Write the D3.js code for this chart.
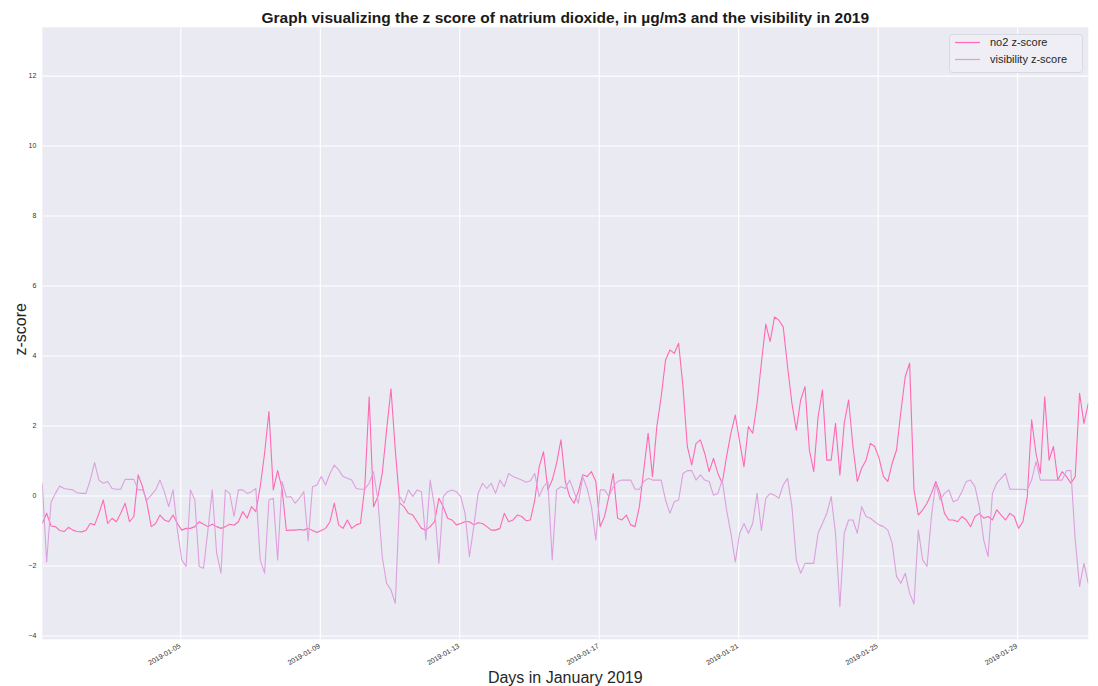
<!DOCTYPE html>
<html><head><meta charset="utf-8">
<script src="https://cdn.jsdelivr.net/npm/d3@7"></script>
<style>body{margin:0;background:#fff}svg{display:block}</style>
</head><body><svg id="chart" width="1098" height="686"></svg>
<script>
const seriesNames = ["no2 z-score", "visibility z-score"];
const seriesColors = ["#ff69b4", "#dda0dd"];
const startISO = "2019-01-01T01:00:00Z";
const stepHours = 3;
const no2 = [
-0.80,-0.51,-0.87,-0.89,-1.00,-1.03,-0.91,-0.99,-1.03,-1.04,
-1.00,-0.80,-0.84,-0.51,-0.13,-0.80,-0.65,-0.75,-0.51,-0.22,
-0.75,-0.60,0.59,0.25,-0.22,-0.89,-0.80,-0.56,-0.70,-0.75,
-0.56,-0.80,-0.99,-0.94,-0.94,-0.89,-0.75,-0.82,-0.89,-0.82,
-0.89,-0.94,-0.89,-0.82,-0.85,-0.75,-0.46,-0.65,-0.32,-0.46,
0.25,1.20,2.40,0.16,0.71,0.20,-1.00,-0.99,-0.99,-0.97,
-0.99,-0.94,-1.00,-1.06,-1.00,-0.94,-0.75,-0.22,-0.84,-0.94,
-0.70,-0.94,-0.84,-0.80,0.25,2.82,-0.32,-0.03,0.63,1.87,
3.05,1.30,-0.22,-0.32,-0.51,-0.56,-0.75,-0.94,-0.99,-0.89,
-0.75,-0.08,-0.32,-0.65,-0.70,-0.84,-0.80,-0.75,-0.75,-0.84,
-0.78,-0.80,-0.89,-0.99,-0.99,-0.94,-0.51,-0.75,-0.70,-0.56,
-0.60,-0.72,-0.70,-0.13,0.82,1.25,0.16,0.44,0.92,1.59,
0.40,-0.03,-0.22,0.11,0.59,0.54,0.68,0.40,-0.89,-0.60,
-0.03,0.63,-0.65,-0.70,-0.56,-0.84,-0.89,-0.32,0.73,1.78,
0.54,1.97,2.82,3.87,4.16,4.06,4.35,3.11,1.40,0.87,
1.49,1.59,1.20,0.68,1.06,0.63,0.35,1.11,1.78,2.30,
1.54,0.82,1.97,1.78,2.63,3.80,4.90,4.40,5.10,5.01,
4.82,3.68,2.63,1.87,2.73,3.11,1.30,0.68,2.25,3.01,
1.01,1.01,2.06,0.59,2.06,2.73,1.40,0.40,0.78,1.01,
1.49,1.40,1.06,0.54,0.40,0.92,1.30,2.40,3.40,3.78,
0.16,-0.56,-0.41,-0.22,0.06,0.40,0.06,-0.51,-0.70,-0.70,
-0.75,-0.60,-0.70,-0.89,-0.60,-0.51,-0.65,-0.60,-0.70,-0.41,
-0.56,-0.70,-0.51,-0.60,-0.94,-0.75,-0.03,2.16,1.20,0.63,
2.82,1.01,1.40,0.44,0.68,0.54,0.35,0.54,2.92,2.06,
2.63
];
const visibility = [
0.35,-1.90,-0.20,0.06,0.27,0.20,0.18,0.16,0.08,0.06,
0.06,0.44,0.94,0.44,0.35,0.40,0.20,0.18,0.18,0.46,
0.46,0.46,0.16,0.16,-0.13,0.01,0.16,0.44,0.11,-0.32,
0.16,-0.99,-1.84,-2.03,0.16,-0.13,-2.03,-2.08,-0.99,0.16,
-1.65,-2.22,0.16,0.06,-0.60,0.16,0.16,0.06,0.11,0.20,
-1.84,-2.22,-0.13,-0.08,-1.84,0.40,-0.05,-0.03,-0.22,-0.08,
0.11,-1.30,0.25,0.30,0.54,0.30,0.63,0.87,0.73,0.54,
0.49,0.44,0.20,0.18,0.18,0.35,0.68,-0.13,-1.75,-2.51,
-2.70,-3.08,-0.03,-0.22,0.16,-0.03,0.16,0.11,-1.27,0.44,
-0.32,-1.94,-0.03,0.11,0.16,0.11,-0.03,-0.51,-1.75,-0.89,
0.06,0.35,0.20,0.35,0.06,0.44,0.25,0.63,0.54,0.49,
0.44,0.38,0.42,0.63,-0.03,0.25,0.40,-1.84,0.16,0.25,
0.20,0.44,0.11,-0.22,0.54,0.20,-0.32,-1.27,0.16,0.16,
-0.03,0.25,0.40,0.44,0.44,0.44,0.18,0.18,0.40,0.49,
0.44,0.44,0.44,-0.13,-0.51,-0.18,-0.13,0.63,0.71,0.71,
0.44,0.59,0.44,0.40,0.01,0.06,0.44,-0.41,-1.08,-1.90,
-1.08,-0.80,-1.08,-0.80,0.06,-1.00,-0.08,0.06,0.01,-0.08,
0.30,0.49,-0.32,-1.84,-2.22,-1.94,-1.94,-1.94,-1.08,-0.80,
-0.51,-0.03,-1.08,-3.18,-1.08,-0.70,-0.70,-1.08,-0.32,-0.60,
-0.65,-0.75,-0.84,-0.89,-0.99,-1.37,-2.32,-2.51,-2.22,-2.79,
-3.10,-0.99,-1.84,-2.03,-0.60,0.35,-0.13,0.06,0.16,-0.18,
-0.13,0.11,0.40,0.44,0.25,-0.32,-1.27,-1.75,0.06,0.35,
0.49,0.63,0.18,0.18,0.18,0.18,0.16,0.44,0.97,0.44,
0.44,0.44,0.44,0.44,0.44,0.71,0.71,-1.27,-2.60,-1.94,
-2.51
];
const yTicks = [-4, -2, 0, 2, 4, 6, 8, 10, 12];
const xTickLabels = ["2019-01-05","2019-01-09","2019-01-13","2019-01-17","2019-01-21","2019-01-25","2019-01-29"];
const yDomain = [-4.11, 13.38];
const titleText = "Graph visualizing the z score of natrium dioxide, in \u00b5g/m3 and the visibility in 2019";
const xLabelText = "Days in January 2019";
const yLabelText = "z-score";

const W = 1098, H = 686;
const plot = {left: 42.3, right: 1088.3, top: 27.3, bottom: 639.3};
const FONT = "'Liberation Sans', Arial, Helvetica, sans-serif";

const start = new Date(startISO);
const timeAt = i => new Date(start.getTime() + i * stepHours * 3600e3);
const end = timeAt(no2.length - 1);

const x = d3.scaleUtc().domain([start, end]).range([plot.left, plot.right]);
const y = d3.scaleLinear().domain(yDomain).range([plot.bottom, plot.top]);

const svg = d3.select("#chart");
svg.append("rect").attr("width", W).attr("height", H).attr("fill", "#fff");
svg.append("rect")
  .attr("x", plot.left).attr("y", plot.top)
  .attr("width", plot.right - plot.left).attr("height", plot.bottom - plot.top)
  .attr("fill", "#eaeaf2");

const xTickDates = xTickLabels.map(s => new Date(s + "T00:00:00Z"));

// grid
const gx = svg.append("g").attr("transform", `translate(0,${plot.bottom})`)
  .call(d3.axisBottom(x).tickValues(xTickDates).tickSize(-(plot.bottom - plot.top)).tickFormat(""));
gx.select(".domain").remove();
gx.selectAll("line").attr("stroke", "#ffffff").attr("stroke-width", 1.1);

const gy = svg.append("g").attr("transform", `translate(${plot.left},0)`)
  .call(d3.axisLeft(y).tickValues(yTicks).tickSize(-(plot.right - plot.left)).tickFormat(""));
gy.select(".domain").remove();
gy.selectAll("line").attr("stroke", "#ffffff").attr("stroke-width", 1.1);

// tick labels
const ax = svg.append("g").attr("transform", `translate(0,${plot.bottom})`)
  .call(d3.axisBottom(x).tickValues(xTickDates).tickSize(0).tickFormat(d3.utcFormat("%Y-%m-%d")));
ax.select(".domain").remove();
ax.selectAll("text")
  .attr("x", 0).attr("y", 0).attr("dy", "0.35em")
  .attr("transform", "translate(-1,6) rotate(-30)")
  .style("text-anchor", "end")
  .attr("fill", "#333").style("font-family", FONT).style("font-size", "7px");

const ay = svg.append("g").attr("transform", `translate(${plot.left},0)`)
  .call(d3.axisLeft(y).tickValues(yTicks).tickSize(0).tickPadding(6)
    .tickFormat(d => d < 0 ? "\u2212" + Math.abs(d) : String(d)));
ay.select(".domain").remove();
ay.selectAll("text").attr("fill", "#333").style("font-family", FONT).style("font-size", "7px");

// lines
svg.append("clipPath").attr("id", "clip").append("rect")
  .attr("x", plot.left).attr("y", plot.top)
  .attr("width", plot.right - plot.left).attr("height", plot.bottom - plot.top);

const line = d3.line().x((d, i) => x(timeAt(i))).y(d => y(d));
[no2, visibility].forEach((s, k) => {
  svg.append("path").datum(s)
    .attr("clip-path", "url(#clip)")
    .attr("fill", "none").attr("stroke", seriesColors[k])
    .attr("stroke-width", 1.1).attr("stroke-linejoin", "round")
    .attr("d", line);
});

// legend
const lg = svg.append("g");
lg.append("rect").attr("x", 949.5).attr("y", 34.5).attr("width", 133).attr("height", 38)
  .attr("rx", 3).attr("fill", "#eeeef4").attr("stroke", "#d4d4dc").attr("stroke-width", 0.8);
seriesNames.forEach((n, k) => {
  const yy = 42.5 + k * 17;
  lg.append("line").attr("x1", 955).attr("x2", 980).attr("y1", yy).attr("y2", yy)
    .attr("stroke", seriesColors[k]).attr("stroke-width", 1.2);
  lg.append("text").attr("x", 990).attr("y", yy).attr("dy", "0.35em")
    .attr("fill", "#262626").style("font-family", FONT).style("font-size", "11px").text(n);
});

// titles
svg.append("text").attr("x", (plot.left + plot.right) / 2).attr("y", 23)
  .attr("text-anchor", "middle").attr("fill", "#1a1a1a")
  .style("font-family", FONT).style("font-size", "15.5px").style("font-weight", "bold")
  .text(titleText);
svg.append("text").attr("x", (plot.left + plot.right) / 2).attr("y", 683)
  .attr("text-anchor", "middle").attr("fill", "#262626")
  .style("font-family", FONT).style("font-size", "16px").text(xLabelText);
svg.append("text").attr("transform", `translate(26,${(plot.top + plot.bottom) / 2 - 4}) rotate(-90)`)
  .attr("text-anchor", "middle").attr("fill", "#262626")
  .style("font-family", FONT).style("font-size", "16px").text(yLabelText);
</script>
</body></html>
